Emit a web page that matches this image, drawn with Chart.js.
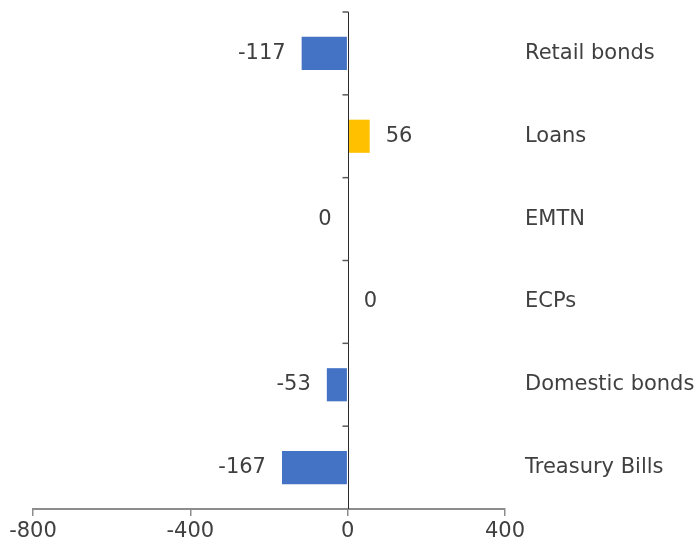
<!DOCTYPE html>
<html lang="en">
  <head>
    <meta charset="UTF-8" />
    <title>Net issuance by instrument</title>
    <script src="https://cdn.jsdelivr.net/npm/chart.js@4/dist/chart.umd.min.js"></script>
    <style>
      html,
      body {
        margin: 0;
        padding: 0;
        background: #fff;
      }
      .wrap {
        width: 699px;
        height: 548px;
      }
    </style>
  </head>
  <body>
    <div class="wrap">
      <canvas id="issuanceChart"></canvas>
    </div>
    <script>
      const instruments = ["Retail bonds", "Loans", "EMTN", "ECPs", "Domestic bonds", "Treasury Bills"];
      // EMTN is a small outflow that rounds to 0, so it keeps its sign
      const netFlows = [-117, 56, -0, 0, -53, -167];
      const axisTicks = [-800, -400, 0, 400];

      const blue = "#4472C4";
      const gold = "#FFC000";
      const textColor = "#404040";
      const fontFamily = "'DejaVu Sans', Verdana, sans-serif";

      const isNegative = (v) => v < 0 || Object.is(v, -0);

      // value labels at the outer end of each bar
      const valueLabels = {
        id: "valueLabels",
        afterDatasetsDraw(chart) {
          const { ctx } = chart;
          const meta = chart.getDatasetMeta(0);
          ctx.save();
          ctx.font = "21px " + fontFamily;
          ctx.fillStyle = textColor;
          ctx.textBaseline = "middle";
          meta.data.forEach((bar, i) => {
            const v = netFlows[i];
            if (isNegative(v)) {
              ctx.textAlign = "right";
              ctx.fillText(String(Math.abs(v) === 0 ? 0 : v), bar.x - 16, bar.y);
            } else {
              ctx.textAlign = "left";
              ctx.fillText(String(v), bar.x + 16, bar.y);
            }
          });
          ctx.restore();
        },
      };

      // vertical axis line at zero with marks between categories
      const zeroAxis = {
        id: "zeroAxis",
        afterDatasetsDraw(chart) {
          const { ctx, chartArea } = chart;
          const xs = chart.scales.x;
          const ys = chart.scales.y;
          const x0 = Math.round(xs.getPixelForValue(0)) + 0.5;
          const band = ys.getPixelForValue(1) - ys.getPixelForValue(0);
          ctx.save();
          ctx.strokeStyle = "#2b2b2b";
          ctx.lineWidth = 1;
          ctx.beginPath();
          ctx.moveTo(x0, chartArea.top);
          ctx.lineTo(x0, chartArea.bottom);
          ctx.stroke();
          ctx.strokeStyle = "#595959";
          ctx.lineWidth = 1.5;
          for (let i = 0; i < instruments.length; i++) {
            const y = ys.getPixelForValue(i) - band / 2;
            ctx.beginPath();
            ctx.moveTo(x0 - 6, y);
            ctx.lineTo(x0, y);
            ctx.stroke();
          }
          ctx.restore();
        },
      };

      const ctx = document.querySelector("#issuanceChart").getContext("2d");
      const myChart = new Chart(ctx, {
        type: "bar",
        data: {
          labels: instruments,
          datasets: [
            {
              data: netFlows,
              backgroundColor: netFlows.map((v) => (isNegative(v) ? blue : gold)),
              borderWidth: 0,
              barPercentage: 0.4,
              categoryPercentage: 1,
            },
          ],
        },
        options: {
          indexAxis: "y",
          responsive: true,
          maintainAspectRatio: false,
          animation: false,
          layout: {
            padding: { left: 33, top: 12, right: 0, bottom: 0 },
          },
          plugins: {
            legend: { display: false },
            tooltip: { enabled: false },
          },
          scales: {
            x: {
              min: axisTicks[0],
              max: axisTicks[axisTicks.length - 1],
              afterBuildTicks(scale) {
                scale.ticks = axisTicks.map((v) => ({ value: v }));
              },
              afterFit(scale) {
                scale.height = 39;
                scale.paddingLeft = 0;
                scale.paddingRight = 0;
              },
              border: { display: true, color: "#8c8c8c", width: 2 },
              grid: {
                drawOnChartArea: false,
                drawTicks: true,
                tickLength: 7,
                color: "#8c8c8c",
                lineWidth: 1.5,
              },
              ticks: {
                color: textColor,
                font: { family: fontFamily, size: 21 },
                padding: 3,
                maxRotation: 0,
              },
            },
            y: {
              position: "right",
              afterFit(scale) {
                scale.width = 194;
                scale.paddingTop = 0;
                scale.paddingBottom = 0;
              },
              border: { display: false },
              grid: { display: false, drawTicks: false },
              ticks: {
                color: textColor,
                font: { family: fontFamily, size: 21 },
                padding: 20,
              },
            },
          },
        },
        plugins: [valueLabels, zeroAxis],
      });
    </script>
  </body>
</html>
